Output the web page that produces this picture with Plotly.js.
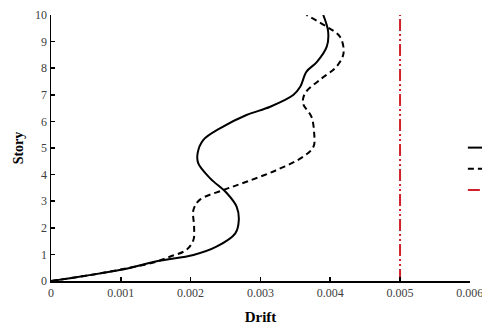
<!DOCTYPE html>
<html><head><meta charset="utf-8">
<script src="https://cdn.plot.ly/plotly-3.0.1.min.js"></script>
<style>html,body{margin:0;padding:0;background:#fff;}#chart{width:482px;height:326px;}</style>
</head><body><div id="chart"></div>
<script>
// Solid curve (series 1)
const solidDrift = [0, 0.0005, 0.001, 0.00153, 0.00204, 0.00237, 0.00264, 0.00269, 0.00266, 0.00252, 0.00228, 0.00211, 0.0021, 0.00218, 0.00242, 0.0028, 0.00314, 0.00347, 0.00357, 0.00366, 0.00381, 0.00395, 0.00397, 0.0039];
const solidStory = [0, 0.2, 0.42, 0.75, 0.98, 1.29, 1.79, 2.29, 2.79, 3.30, 3.86, 4.42, 4.80, 5.30, 5.74, 6.24, 6.55, 6.99, 7.30, 7.87, 8.24, 8.81, 9.37, 10];
// Dashed curve (series 2)
const dashDrift = [0, 0.0005, 0.001, 0.0015, 0.0017, 0.00194, 0.00204, 0.00205, 0.00204, 0.00213, 0.00247, 0.0028, 0.00323, 0.00361, 0.00376, 0.00377, 0.00373, 0.00361, 0.00364, 0.00385, 0.00409, 0.00419, 0.00414, 0.00395, 0.00366];
const dashStory = [0, 0.2, 0.43, 0.72, 0.91, 1.17, 1.54, 2.04, 2.67, 3.05, 3.42, 3.73, 4.17, 4.67, 5.05, 5.55, 6.18, 6.68, 7.06, 7.56, 8.06, 8.56, 9.18, 9.56, 10];
// Limit line
const limitDrift = [0.005, 0.005];
const limitStory = [0, 10];
const seriesNames = ["Series 1", "Series 2", "Limit"];
const xTicks = [0, 0.001, 0.002, 0.003, 0.004, 0.005, 0.006];
const xTickText = ["0", "0.001", "0.002", "0.003", "0.004", "0.005", "0.006"];
const yTicks = [0,1,2,3,4,5,6,7,8,9,10];

const traces = [
  {x: solidDrift, y: solidStory, mode: 'lines', name: seriesNames[0], line: {color: '#000', width: 2, shape: 'spline', smoothing: 1}},
  {x: dashDrift, y: dashStory, mode: 'lines', name: seriesNames[1], line: {color: '#000', width: 2, dash: '6px,4px', shape: 'spline', smoothing: 1}},
  {x: limitDrift, y: limitStory, mode: 'lines', name: seriesNames[2], line: {color: '#d0202a', width: 2, dash: '12px,3px,2px,3px,2px,3px'}}
];
const tickFont = {family: '"Liberation Serif", "Times New Roman", serif', size: 12, color: '#404040'};
const layout = {
  width: 482, height: 326,
  margin: {l: 51, r: 12, t: 15, b: 45, autoexpand: false},
  paper_bgcolor: '#fff', plot_bgcolor: '#fff',
  showlegend: true,
  legend: {x: 0.983, xanchor: 'left', y: 0.421, yanchor: 'middle', font: {family: '"Liberation Serif", serif', size: 14, color: '#000'}, bgcolor: 'rgba(0,0,0,0)', tracegroupgap: 0},
  xaxis: {range: [0, 0.006002], tickvals: xTicks, ticktext: xTickText, showgrid: false, zeroline: false, ticklabeloverflow: 'allow',
    showline: true, linecolor: '#000', linewidth: 1.5, ticks: 'inside', ticklen: 4, tickcolor: '#000', tickwidth: 1.5,
    tickfont: tickFont, title: {text: 'Drift', font: {family: '"Liberation Serif", serif', size: 15, color: '#000', weight: 'bold'}, standoff: 12}},
  yaxis: {range: [0, 10], tickvals: yTicks, showgrid: false, zeroline: false,
    showline: true, linecolor: '#000', linewidth: 1.5, ticks: 'inside', ticklen: 4, tickcolor: '#000', tickwidth: 1.5,
    tickfont: tickFont, title: {text: 'Story', font: {family: '"Liberation Serif", serif', size: 14, color: '#000', weight: 'bold'}, standoff: 8}}
};
Plotly.newPlot('chart', traces, layout, {displayModeBar: false, staticPlot: true});
</script></body></html>
